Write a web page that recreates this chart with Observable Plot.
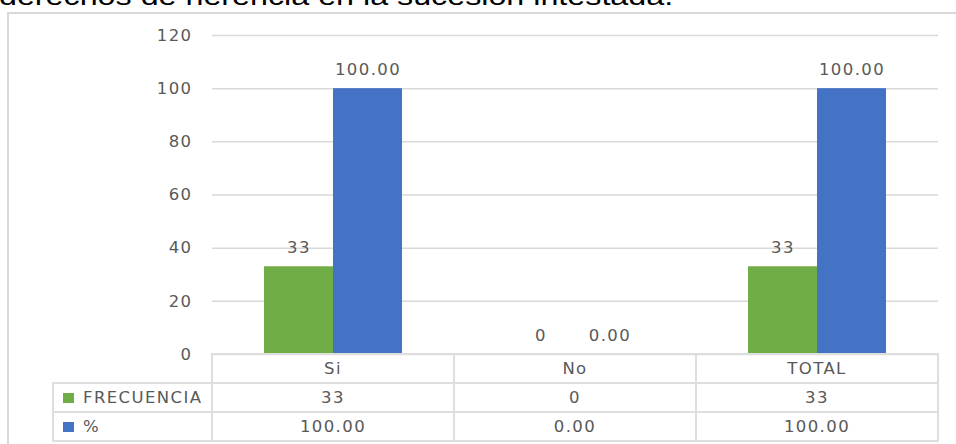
<!DOCTYPE html>
<html>
<head>
<meta charset="utf-8">
<script src="https://cdn.jsdelivr.net/npm/d3@7"></script>
<script src="https://cdn.jsdelivr.net/npm/@observablehq/plot@0.6"></script>
<style>
  html, body { margin: 0; padding: 0; background: #fff; }
  #wrap { position: relative; width: 956px; height: 444px; overflow: hidden; background: #fff; }
  #title { position: absolute; left: -1px; top: -16px; font-family: "Liberation Sans", Arial, sans-serif; font-size: 25px; line-height: 24px; color: #000; white-space: nowrap; transform: scaleX(1.29); transform-origin: 0 0; }
  #frame { position: absolute; left: 7px; top: 12px; width: 1000px; height: 500px; border-left: 2px solid #d9d9d9; border-top: 2px solid #d9d9d9; }
  #chart { position: absolute; left: 0; top: 0; }
  #chart svg text { letter-spacing: 1.4px; }
  #tbl { position: absolute; border-collapse: collapse; table-layout: fixed; font-family: "DejaVu Sans", sans-serif; font-size: 16.5px; color: #595959; letter-spacing: 1.4px; }
  #tbl td { border: 2px solid #dedede; height: 27px; padding: 0; text-align: center; vertical-align: middle; white-space: nowrap; }
  #tbl td.lab { text-align: left; padding-left: 9px; }
  #tbl td.blank { border-top: none; border-left: none; }
  .sw { display: inline-block; width: 11px; height: 10px; margin-right: 9px; vertical-align: 0px; }
</style>
</head>
<body>
<div id="wrap">
  <div id="frame"></div>
  <div id="title">derechos de herencia en la sucesión intestada.</div>
  <div id="chart"></div>
</div>
<script>
const categories = ["Si", "No", "TOTAL"];
const seriesNames = ["FRECUENCIA", "%"];
const frecuencia = [33, 0, 33];
const porcentaje = [100, 0, 100];
const yTicks = [0, 20, 40, 60, 80, 100, 120];
const colors = ["#70AD47", "#4472C4"];

const fmtF = v => d3.format("d")(v);
const fmtP = v => d3.format(".2f")(v);

const rowsF = categories.map((c, i) => ({cat: c, value: frecuencia[i], label: fmtF(frecuencia[i])}));
const rowsP = categories.map((c, i) => ({cat: c, value: porcentaje[i], label: fmtP(porcentaje[i])}));

const chart = Plot.plot({
  width: 956,
  height: 444,
  marginLeft: 212,
  marginRight: 18,
  marginTop: 35,
  marginBottom: 90,
  x: {domain: categories, padding: 0, axis: null},
  y: {domain: [0, 120]},
  style: {fontFamily: "DejaVu Sans, sans-serif", fontSize: "16.5px", color: "#595959", background: "transparent", overflow: "visible"},
  marks: [
    Plot.ruleY(yTicks, {stroke: "#d9d9d9", strokeWidth: 1.5, strokeOpacity: 1}),
    Plot.axisY(yTicks, {tickSize: 0, tickPadding: 20, label: null, fill: "#595959", fontSize: 16.5}),
    Plot.barY(rowsF, {x: "cat", y: "value", fill: colors[0], insetLeft: 52, insetRight: 121}),
    Plot.barY(rowsP, {x: "cat", y: "value", fill: colors[1], insetLeft: 121, insetRight: 52}),
    Plot.text(rowsF, {x: "cat", y: "value", text: "label", dx: -34.5, dy: -19, fill: "#595959", fontSize: 16.5}),
    Plot.text(rowsP, {x: "cat", y: "value", text: "label", dx: 34.5, dy: -19, fill: "#595959", fontSize: 16.5})
  ]
});
document.getElementById("chart").appendChild(chart);

// Data table below the plot, aligned with the x scale
const xs = chart.scale("x");
const ys = chart.scale("y");
const bw = xs.bandwidth;
const left0 = xs.apply(categories[0]);
const labelLeft = 53;
const tbl = document.createElement("table");
tbl.id = "tbl";
tbl.style.left = (labelLeft - 1) + "px";
tbl.style.top = (ys.apply(0) - 1) + "px";
const colg = document.createElement("colgroup");
const c0 = document.createElement("col"); c0.style.width = (left0 - labelLeft) + "px"; colg.appendChild(c0);
categories.forEach(() => { const c = document.createElement("col"); c.style.width = bw + "px"; colg.appendChild(c); });
tbl.appendChild(colg);
tbl.style.width = (left0 - labelLeft + bw * categories.length) + "px";

const head = document.createElement("tr");
const blank = document.createElement("td"); blank.className = "blank"; head.appendChild(blank);
categories.forEach(c => { const td = document.createElement("td"); td.textContent = c; head.appendChild(td); });
tbl.appendChild(head);

[[frecuencia, fmtF], [porcentaje, fmtP]].forEach(([vals, fmt], si) => {
  const tr = document.createElement("tr");
  const lab = document.createElement("td"); lab.className = "lab";
  const sw = document.createElement("span"); sw.className = "sw"; sw.style.background = colors[si];
  lab.appendChild(sw); lab.appendChild(document.createTextNode(seriesNames[si]));
  tr.appendChild(lab);
  vals.forEach(v => { const td = document.createElement("td"); td.textContent = fmt(v); tr.appendChild(td); });
  tbl.appendChild(tr);
});
document.getElementById("wrap").appendChild(tbl);
</script>
</body>
</html>
